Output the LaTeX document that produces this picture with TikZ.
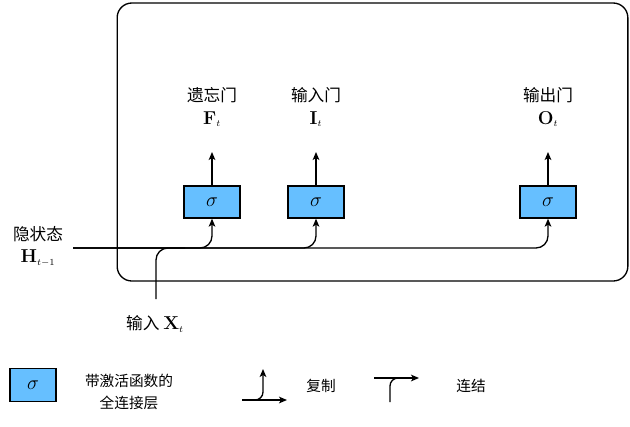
\RequirePackage{fix-cm}
\documentclass[tikz,border=0pt]{standalone}
\usepackage[no-math]{fontspec}
\setmainfont{Noto Sans CJK SC}
\usetikzlibrary{positioning, arrows.meta}
\definecolor{sigblue}{HTML}{66BFFF}

\begin{document}
\begin{tikzpicture}[x=0.75pt, y=-0.75pt, >={Stealth[length=6pt, width=5pt, inset=1.5pt]}]

\tikzset{
  gate/.style={
    rectangle, draw, line width=1pt, fill=sigblue,
    minimum width=42pt, minimum height=24pt, inner sep=0pt,
    font=\fontsize{15}{17}\selectfont
  },
  arrow/.style={->, line width=1pt},
  line/.style={line width=1pt},
  lbl/.style={font=\fontsize{12.5}{15}\selectfont, inner sep=1pt},
  var/.style={font=\fontsize{14}{16}\selectfont, inner sep=1pt},
  legend/.style={font=\fontsize{11}{17}\selectfont, align=center, inner sep=1pt}
}

\useasboundingbox (0,0) rectangle (630,426);

% =========================================================
% Cell frame and gates
% =========================================================
\node[draw, line width=1pt, rounded corners=11pt,
      minimum width=383pt, minimum height=208.5pt] (cell) at (372.5,142) {};

\node[gate] (gF) at (212,202) {$\sigma$};
\node[gate] (gI) at (316,202) {$\sigma$};
\node[gate] (gO) at (548,202) {$\sigma$};

\node[var] (vF) at (212,119) {$\mathbf{F}_{\scriptscriptstyle t}$};
\node[var] (vI) at (316,119) {$\mathbf{I}_{\scriptscriptstyle t}$};
\node[var] (vO) at (548,119) {$\mathbf{O}_{\scriptscriptstyle t}$};
\node[lbl] (nF) at (212,95) {遗忘门};
\node[lbl] (nI) at (316,95) {输入门};
\node[lbl] (nO) at (548,95) {输出门};

\coordinate (oF) at (212,152);
\coordinate (oI) at (316,152);
\coordinate (oO) at (548,152);
\draw[arrow] (gF) -- (oF);
\draw[arrow] (gI) -- (oI);
\draw[arrow] (gO) -- (oO);

% =========================================================
% Hidden state and input
% =========================================================
\node[lbl] (hidtxt) at (38,234) {隐状态};
\node[var] (hidvar) at (38,258) {$\mathbf{H}_{\scriptscriptstyle t-1}$};
\coordinate (hin) at (73,248);

\draw[arrow, rounded corners=9pt] (hin) -| (gO.south);
\draw[arrow, rounded corners=9pt] (hin) -| (gF.south);
\draw[arrow, rounded corners=9pt] (hin) -| (gI.south);

\node[lbl] (xtxt) at (155,324) {输入 {\fontsize{14}{16}\selectfont$\mathbf{X}_{\scriptscriptstyle t}$}};
\coordinate (xin) at (156,299);
\coordinate (merge) at (185,248);
\draw[line, rounded corners=9pt] (xin) |- (merge);

% =========================================================
% Legend
% =========================================================
\node[gate, minimum width=34.5pt, minimum height=24.75pt] (lgate) at (33,385) {$\sigma$};
\node[legend] (lgtxt) at (129,392) {带激活函数的\\全连接层};

\coordinate (cpA) at (242,400);
\coordinate (cpB) at (287,400);
\coordinate (cpC) at (263,369);
\draw[arrow] (cpA) -- (cpB);
\draw[arrow, rounded corners=6pt] (cpA) -| (cpC);
\node[legend] (cptxt) at (321,386) {复制};

\coordinate (ctA) at (390,402);
\coordinate (ctB) at (374,378);
\coordinate (ctC) at (419,378);
\coordinate (ctM) at (405,378);
\draw[arrow] (ctB) -- (ctC);
\draw[line, rounded corners=6pt] (ctA) |- (ctM);
\node[legend] (cttxt) at (471,386) {连结};

\end{tikzpicture}
\end{document}
